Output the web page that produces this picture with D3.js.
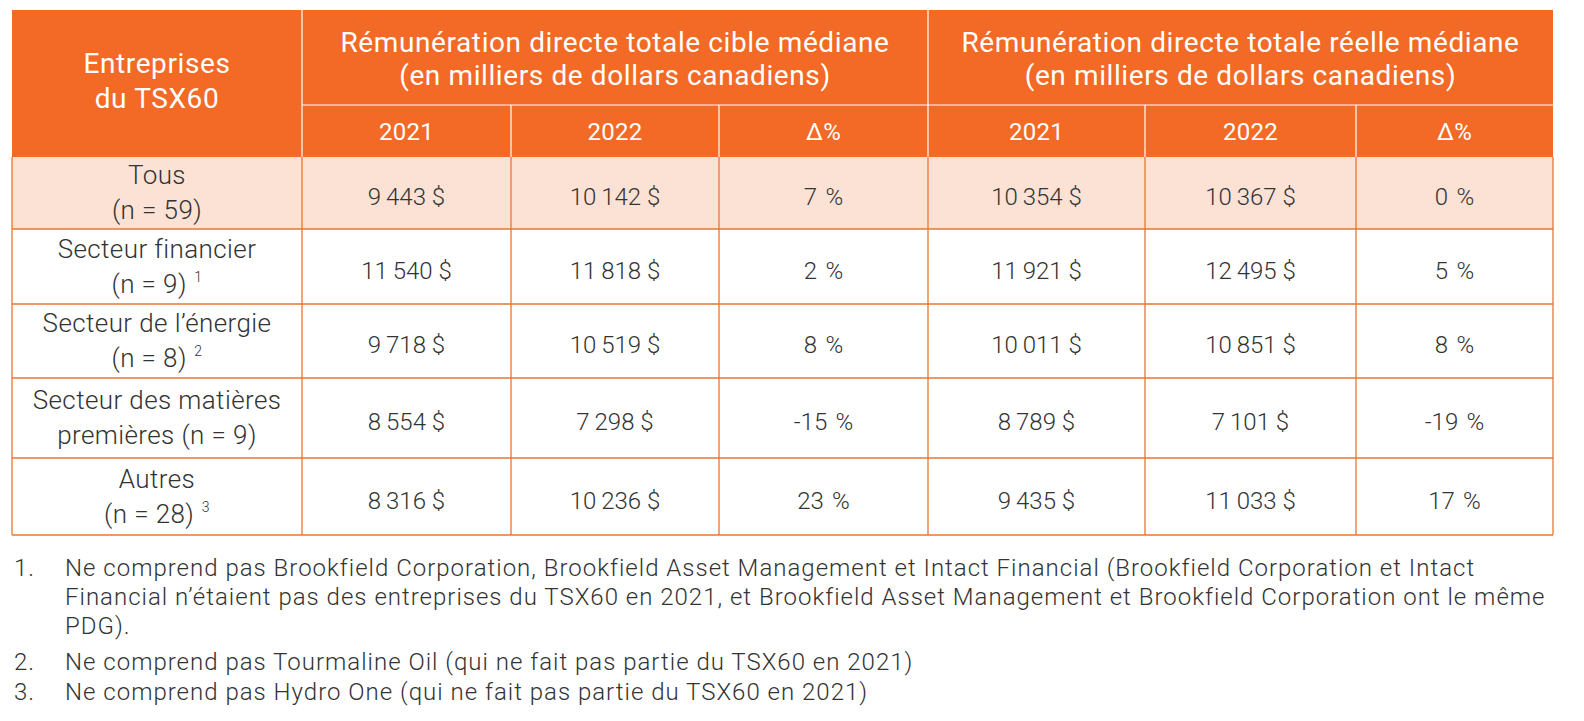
<!DOCTYPE html>
<html>
<head>
<meta charset="utf-8">
<script src="https://cdn.jsdelivr.net/npm/d3@7"></script>
<style>
  html, body { margin: 0; padding: 0; background: #ffffff; }
  svg { display: block; }
  text { font-family: Roboto, "Noto Sans", sans-serif; }
</style>
</head>
<body>
<svg id="chart" width="1584" height="721"></svg>
<script>
// ---------- DATA ----------
const headerFirst = ["Entreprises", "du TSX60"];
const groupTitles = [
  ["Rémunération directe totale cible médiane", "(en milliers de dollars canadiens)"],
  ["Rémunération directe totale réelle médiane", "(en milliers de dollars canadiens)"]
];
const subHeaders = ["2021", "2022", "Δ%", "2021", "2022", "Δ%"];

const categories = ["Tous", "Secteur financier", "Secteur de l’énergie", "Secteur des matières premières", "Autres"];
const categoryLine1 = ["Tous", "Secteur financier", "Secteur de l’énergie", "Secteur des matières", "Autres"];
const categoryLine2 = ["(n = 59)", "(n = 9)", "(n = 8)", "premières (n = 9)", "(n = 28)"];
const categoryNote = ["", "1", "2", "", "3"];

const target2021 = [9443, 11540, 9718, 8554, 8316];
const target2022 = [10142, 11818, 10519, 7298, 10236];
const targetDelta = [7, 2, 8, -15, 23];
const actual2021 = [10354, 11921, 10011, 8789, 9435];
const actual2022 = [10367, 12495, 10851, 7101, 11033];
const actualDelta = [0, 5, 8, -19, 17];

const footnoteNumbers = ["1.", "2.", "3."];
const footnoteLines = [
  ["Ne comprend pas Brookfield Corporation, Brookfield Asset Management et Intact Financial (Brookfield Corporation et Intact",
   "Financial n’étaient pas des entreprises du TSX60 en 2021, et Brookfield Asset Management et Brookfield Corporation ont le même",
   "PDG)."],
  ["Ne comprend pas Tourmaline Oil (qui ne fait pas partie du TSX60 en 2021)"],
  ["Ne comprend pas Hydro One (qui ne fait pas partie du TSX60 en 2021)"]
];

// ---------- LAYOUT ----------
const ORANGE = "#F26A25";
const LINE = "#E9762F";
const LIGHT = "#FBE2D5";
const TEXT = "#333333";

const colEdges = [12, 302, 511, 719, 928, 1145, 1356, 1553];
const rowEdges = [10, 105, 157, 229, 304, 378, 458, 535];

const svg = d3.select("#chart");
const fmtLocale = d3.formatLocale({decimal: ",", thousands: "\u2009", grouping: [3], currency: ["", "\u00a0$"], minus: "-"});
const fmtMoney = v => fmtLocale.format(",")(v) + " $";
const fmtPct = v => fmtLocale.format("d")(v) + "\u00a0\u200a%";
const mid = (a, b) => (a + b) / 2;

// Header background
svg.append("rect").attr("x", colEdges[0]).attr("y", rowEdges[0])
  .attr("width", colEdges[7] - colEdges[0]).attr("height", rowEdges[2] - rowEdges[0])
  .attr("fill", ORANGE);

// First body row highlight
svg.append("rect").attr("x", colEdges[0]).attr("y", rowEdges[2])
  .attr("width", colEdges[7] - colEdges[0]).attr("height", rowEdges[3] - rowEdges[2])
  .attr("fill", LIGHT);

// Header white lines
const hdr = svg.append("g").attr("stroke", "#ffffff").attr("stroke-width", 1.2);
hdr.append("line").attr("x1", colEdges[1]).attr("x2", colEdges[7]).attr("y1", rowEdges[1]).attr("y2", rowEdges[1]);
[1, 4].forEach(i => hdr.append("line").attr("x1", colEdges[i]).attr("x2", colEdges[i]).attr("y1", rowEdges[0]).attr("y2", rowEdges[2]));
[2, 3, 5, 6].forEach(i => hdr.append("line").attr("x1", colEdges[i]).attr("x2", colEdges[i]).attr("y1", rowEdges[1]).attr("y2", rowEdges[2]));

// Body grid lines
const grid = svg.append("g").attr("stroke", LINE).attr("stroke-width", 1.3);
for (let r = 3; r <= 7; r++) {
  grid.append("line").attr("x1", colEdges[0]).attr("x2", colEdges[7]).attr("y1", rowEdges[r]).attr("y2", rowEdges[r]);
}
colEdges.forEach(x => grid.append("line").attr("x1", x).attr("x2", x).attr("y1", rowEdges[2]).attr("y2", rowEdges[7]));

// Header texts
const headG = svg.append("g").attr("fill", "#ffffff").attr("text-anchor", "middle")
  .attr("font-size", 28).attr("letter-spacing", 0.6);
headG.selectAll("text.h1").data(headerFirst).join("text")
  .attr("x", mid(colEdges[0], colEdges[1]))
  .attr("y", (d, i) => 73 + i * 35)
  .text(d => d);

groupTitles.forEach((lines, g) => {
  const x = g === 0 ? mid(colEdges[1], colEdges[4]) : mid(colEdges[4], colEdges[7]);
  headG.selectAll("text.g" + g).data(lines).join("text")
    .attr("x", x).attr("y", (d, i) => 52 + i * 33)
    .text(d => d);
});

headG.selectAll("text.sub").data(subHeaders).join("text")
  .attr("x", (d, i) => mid(colEdges[i + 1], colEdges[i + 2]))
  .attr("y", 140).attr("font-size", 24).attr("letter-spacing", 0.3).text(d => d);

// Body
const rowsData = categories.map((c, i) => ({
  l1: categoryLine1[i], l2: categoryLine2[i], note: categoryNote[i],
  vals: [fmtMoney(target2021[i]), fmtMoney(target2022[i]), fmtPct(targetDelta[i]),
         fmtMoney(actual2021[i]), fmtMoney(actual2022[i]), fmtPct(actualDelta[i])]
}));

const body = svg.append("g").attr("fill", TEXT).attr("text-anchor", "middle").attr("font-weight", 300);
rowsData.forEach((d, i) => {
  const top = rowEdges[i + 2], bot = rowEdges[i + 3];
  const cy = mid(top, bot);
  body.append("text").attr("x", mid(colEdges[0], colEdges[1])).attr("y", cy - 9)
    .attr("font-size", 26).attr("letter-spacing", 0.4).text(d.l1);
  const t2 = body.append("text").attr("x", mid(colEdges[0], colEdges[1])).attr("y", cy + 26)
    .attr("font-size", 26).attr("letter-spacing", 0.4);
  t2.append("tspan").text(d.l2);
  if (d.note) {
    t2.append("tspan").attr("font-size", 14).attr("dy", -11).text("\u2002" + d.note);
  }
  d.vals.forEach((v, j) => {
    body.append("text").attr("x", mid(colEdges[j + 1], colEdges[j + 2])).attr("y", cy + 12)
      .attr("font-size", 24).text(v);
  });
});

// Footnotes
const fn = svg.append("g").attr("fill", TEXT).attr("font-size", 24).attr("letter-spacing", 1.0).attr("font-weight", 300);
const fnBaselines = [[576, 605, 634], [670], [700]];
footnoteNumbers.forEach((num, n) => {
  fn.append("text").attr("x", 14).attr("y", fnBaselines[n][0]).text(num);
  footnoteLines[n].forEach((ln, k) => {
    fn.append("text").attr("x", 65).attr("y", fnBaselines[n][k]).text(ln);
  });
});
</script>
</body>
</html>
